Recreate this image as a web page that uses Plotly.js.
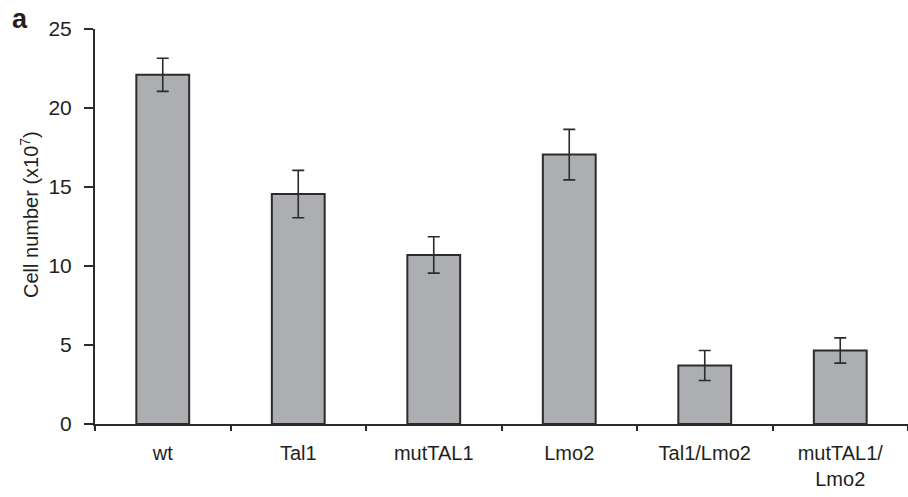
<!DOCTYPE html>
<html>
<head>
<meta charset="utf-8">
<script src="https://cdn.plot.ly/plotly-3.0.1.min.js"></script>
<style>
  html, body { margin: 0; padding: 0; background: #fff; }
  #chart { width: 908px; height: 497px; }
</style>
</head>
<body>
<div id="chart"></div>
<script>
// Cell counts per transduced line (units of 10^7 cells), mean ± error
const categories = ["wt", "Tal1", "mutTAL1", "Lmo2", "Tal1/Lmo2", "mutTAL1/<br>Lmo2"];
const cellNumbers = [22.1, 14.55, 10.7, 17.05, 3.7, 4.65];
const errors = [1.05, 1.5, 1.15, 1.6, 0.95, 0.8];
const yTicks = [0, 5, 10, 15, 20, 25];
const yTitle = "Cell number (x10<sup>7</sup>)";

const ink = "#231f20";
const font = "Liberation Sans, Arial, Helvetica, sans-serif";

// plot area in pixels, used to place the free-standing labels
const W = 908, H = 497;
const M = { l: 95, r: 0, t: 29, b: 73 };
const pw = W - M.l - M.r, ph = H - M.t - M.b;
const px = x => (x - M.l) / pw;
const py = y => (H - M.b - y) / ph;

const trace = {
  type: "bar",
  x: categories,
  y: cellNumbers,
  width: 0.39,
  marker: {
    color: "#adaeb1",
    line: { color: "#2b2b2b", width: 2 }
  },
  error_y: {
    type: "data",
    array: errors,
    visible: true,
    color: "#2b2b2b",
    thickness: 1.6,
    width: 6
  },
  hoverinfo: "x+y"
};

const layout = {
  width: W,
  height: H,
  margin: M,
  paper_bgcolor: "#ffffff",
  plot_bgcolor: "#ffffff",
  showlegend: false,
  font: { family: font, color: ink, size: 20 },
  xaxis: {
    type: "category",
    range: [-0.5, 5.5],
    showline: true,
    linecolor: "#2b2b2b",
    linewidth: 2,
    ticks: "outside",
    tickson: "boundaries",
    ticklen: 5,
    tickwidth: 2,
    tickcolor: "#2b2b2b",
    showgrid: false,
    zeroline: false,
    ticklabelstandoff: 10,
    tickfont: { family: font, size: 20, color: ink }
  },
  yaxis: {
    range: [0, 25],
    tickvals: yTicks,
    showline: true,
    linecolor: "#2b2b2b",
    linewidth: 2,
    ticks: "outside",
    ticklen: 9,
    tickwidth: 2,
    tickcolor: "#2b2b2b",
    showgrid: false,
    zeroline: false,
    ticklabelstandoff: 8,
    tickfont: { family: font, size: 21, color: ink }
  },
  annotations: [
    {
      text: yTitle,
      xref: "paper", yref: "paper",
      x: px(30), y: py(215),
      xanchor: "center", yanchor: "middle",
      textangle: -90,
      showarrow: false,
      font: { family: font, size: 20, color: ink }
    },
    {
      text: "<b>a</b>",
      xref: "paper", yref: "paper",
      x: px(20), y: py(19),
      xanchor: "center", yanchor: "middle",
      showarrow: false,
      font: { family: font, size: 27, color: ink }
    }
  ]
};

Plotly.newPlot("chart", [trace], layout, { displayModeBar: false, staticPlot: true });
</script>
</body>
</html>
